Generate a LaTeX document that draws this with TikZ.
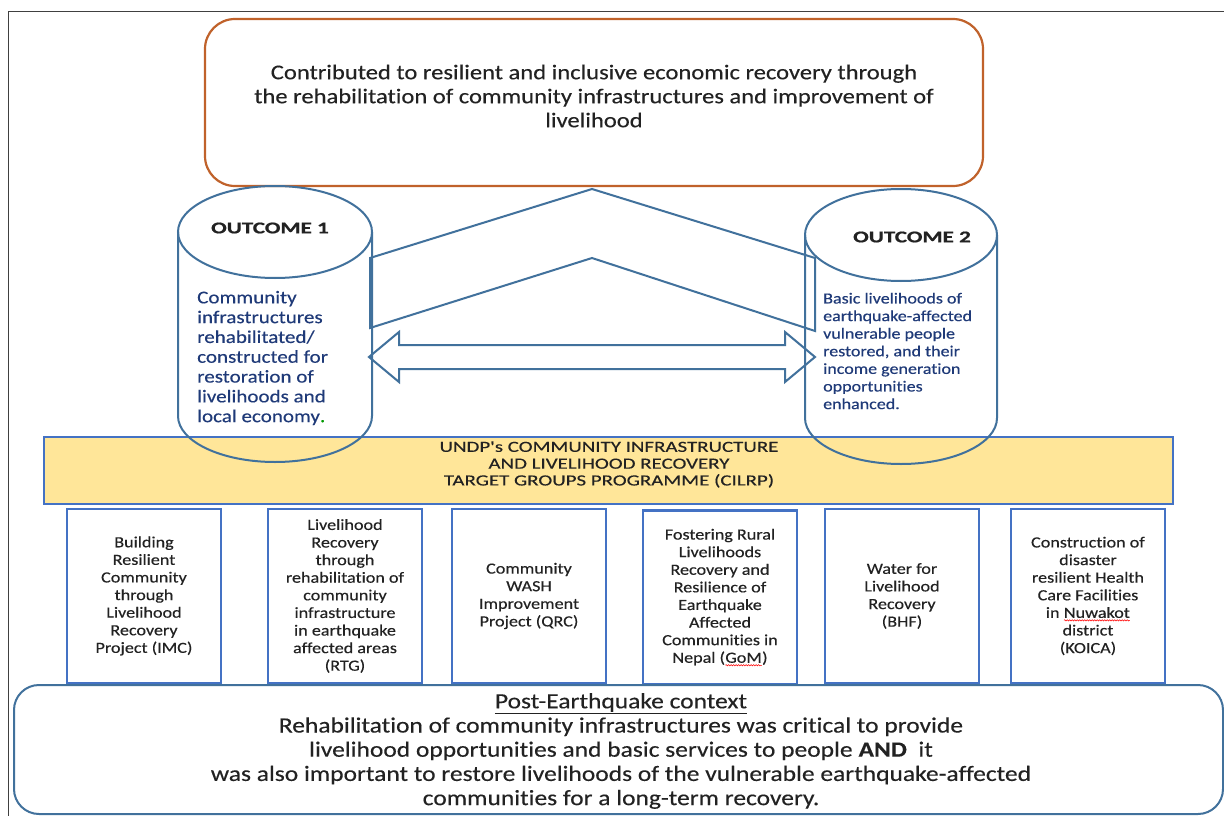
\documentclass[tikz,border=0pt]{standalone}
\usepackage{fontspec}
\setmainfont[FakeStretch=1.17, FakeBold=0.3, Ligatures=NoCommon]{Carlito}
\newfontfamily\widefont[FakeStretch=1.35, FakeBold=0.3, Ligatures=NoCommon]{Carlito}
\newfontfamily\outfont[FakeStretch=1.4, BoldFeatures={FakeBold=0.8}]{Carlito}
\usetikzlibrary{decorations.pathmorphing}
\definecolor{orangeb}{HTML}{C0622B}
\definecolor{steel}{HTML}{41719C}
\definecolor{boxblue}{HTML}{4472C4}
\definecolor{yel}{HTML}{FFE699}
\definecolor{navy}{HTML}{1F3A78}
\definecolor{txt}{HTML}{222222}
\newcommand\redsquig[1]{\tikz[baseline=(sq.base)]{\node[draw=none, fill=none, inner sep=0pt, outer sep=0pt, minimum width=0pt, minimum height=0pt, anchor=base] (sq) {#1}; \draw[red, line width=0.5pt, decorate, decoration={snake, amplitude=0.7pt, segment length=2.5pt}] ([yshift=-2.5pt]sq.base west) -- ([yshift=-2.5pt]sq.base east);}}
\begin{document}
\begin{tikzpicture}[x=1pt,y=-1pt,
  cyl/.style={draw=steel, line width=2pt},
  proj/.style={draw=boxblue, line width=2.2pt, minimum width=154pt, minimum height=174pt, align=center, inner sep=0pt, text=txt, font=\fontsize{15.5}{17.6}\selectfont},
  outlab/.style={font=\fontsize{16.5}{18}\outfont\bfseries, text=txt, inner sep=0pt},
  bodytxt/.style={align=left, text=navy, inner sep=0pt, anchor=west}
]
\useasboundingbox (0,0) rectangle (1224,816);
\fill[white] (0,0) rectangle (1224,816);
% frame
\draw[black!75, line width=1pt] (8,816) -- (8,12) -- (1224,12);

% goal box
\node[draw=orangeb, line width=2.2pt, rounded corners=30pt, minimum width=778pt, minimum height=167pt, inner sep=0pt] (goal) at (594,102.5) {};
\node[align=center, text=txt, inner sep=0pt, font=\fontsize{21}{24}\selectfont] (goaltxt) at (594,96)
 {Contributed to resilient and inclusive economic recovery through\\the rehabilitation of community infrastructures and improvement of\\livelihood};

% programme box
\node[draw=boxblue, fill=yel, line width=2pt, minimum width=1129pt, minimum height=67pt, inner sep=0pt] (cilrp) at (608.5,470.5) {};
\node[align=center, text=txt, inner sep=0pt, font=\fontsize{15.5}{16.8}\widefont] (cilrptxt) at (609,464.5)
 {UNDP's COMMUNITY INFRASTRUCTURE\\AND LIVELIHOOD RECOVERY\\TARGET GROUPS PROGRAMME (CILRP)};

% cylinders
\draw[cyl] (275,232) ellipse [x radius=97pt, y radius=46pt];
\draw[cyl] (178,232) -- (178,416) arc[start angle=180, end angle=360, x radius=97pt, y radius=46pt] -- (372,232);
\draw[cyl] (901,235) ellipse [x radius=96pt, y radius=46pt];
\draw[cyl] (805,235) -- (805,418) arc[start angle=180, end angle=360, x radius=96pt, y radius=46pt] -- (997,235);

\node[outlab] (out1) at (270,228) {OUTCOME 1};
\node[outlab] (out2) at (912,237) {OUTCOME 2};

\node[bodytxt, font=\fontsize{18}{19.8}\selectfont] (body1) at (197,358)
 {Community\\infrastructures\\rehabilitated/\\constructed for\\restoration of\\livelihoods and\\local economy{\color{green!60!black}.}};
\node[bodytxt, font=\fontsize{15.4}{17.6}\selectfont] (body2) at (823,351)
 {Basic livelihoods of\\earthquake-affected\\vulnerable people\\restored, and their\\income generation\\opportunities\\enhanced.};

% chevron
\draw[cyl, line join=miter] (370,258) -- (592,189) -- (815,258) -- (815,331) -- (592,258) -- (370,328) -- cycle;
% double arrow
\draw[cyl, line join=miter] (369,357) -- (399,332) -- (399,345) -- (785,345) -- (785,332) -- (815,357) -- (785,382) -- (785,369) -- (399,369) -- (399,382) -- cycle;

% projects
\node[proj] (p1) at (144,596) {Building\\Resilient\\Community\\through\\Livelihood\\Recovery\\Project (IMC)};
\node[proj] (p2) at (345,596) {Livelihood\\Recovery\\through\\rehabilitation of\\community\\infrastructure\\in earthquake\\affected areas\\(RTG)};
\node[proj] (p3) at (529,596) {Community\\WASH\\Improvement\\Project (QRC)};
\node[proj] (p4) at (720,597.5) {Fostering Rural\\Livelihoods\\Recovery and\\Resilience of\\Earthquake\\Affected\\Communities in\\Nepal (\redsquig{GoM})};
\node[proj] (p5) at (902,596) {Water for\\Livelihood\\Recovery\\(BHF)};
\node[proj] (p6) at (1088,596) {Construction of\\disaster\\resilient Health\\Care Facilities\\in \redsquig{Nuwakot}\\district\\(KOICA)};

% context box
\node[draw=steel, fill=white, line width=2pt, rounded corners=25pt, minimum width=1209pt, minimum height=129pt, inner sep=0pt] (ctx) at (618.5,749.5) {};
\node[align=center, text=txt, inner sep=0pt, font=\fontsize{21.8}{24.2}\selectfont] (ctxtxt) at (621,751)
 {\underline{Post-Earthquake context}\\Rehabilitation of community infrastructures was critical to provide\\livelihood opportunities and basic services to people \textbf{AND}\ \ it\\was also important to restore livelihoods of the vulnerable earthquake-affected\\communities for a long-term recovery.};
\end{tikzpicture}
\end{document}
